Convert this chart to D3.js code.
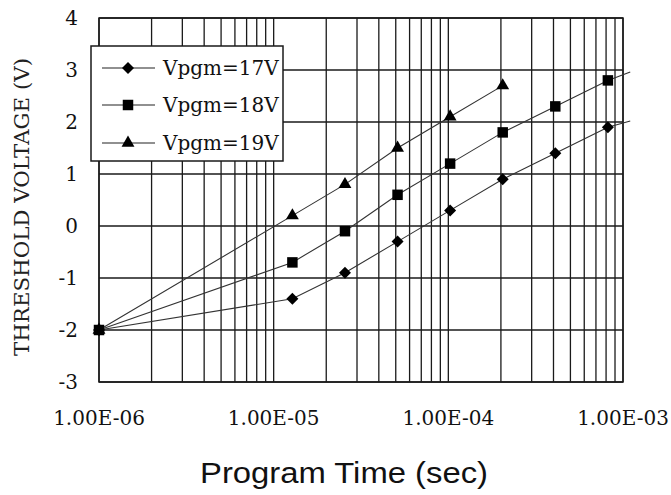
<!DOCTYPE html>
<html>
<head>
<meta charset="utf-8">
<script src="https://cdn.jsdelivr.net/npm/d3@7"></script>
<style>
  body { margin: 0; background: #fff; }
  svg { display: block; }
</style>
</head>
<body>
<div id="chart"></div>
<script>
// program pulse times (sec)
const times = [1e-6, 1.28e-5, 2.56e-5, 5.12e-5, 1.024e-4, 2.048e-4, 4.096e-4, 8.192e-4];
const v17 = [-2, -1.4, -0.9, -0.3, 0.3, 0.9, 1.4, 1.9];
const v18 = [-2, -0.7, -0.1, 0.6, 1.2, 1.8, 2.3, 2.8];
const v19 = [-2, 0.2, 0.8, 1.5, 2.1, 2.7];
// where the 17V / 18V lines run past the last point
const tail17 = [1.1e-3, 2.02];
const tail18 = [1.1e-3, 2.96];

const seriesNames = ["Vpgm=17V", "Vpgm=18V", "Vpgm=19V"];
const yTicks = [-3, -2, -1, 0, 1, 2, 3, 4];
const xTicks = [1e-6, 1e-5, 1e-4, 1e-3];
const xTickLabels = ["1.00E-06", "1.00E-05", "1.00E-04", "1.00E-03"];

const width = 671, height = 495;
const svg = d3.select("#chart").append("svg")
    .attr("width", width)
    .attr("height", height);

const x = d3.scaleLog().domain([1e-6, 1e-3]).range([99, 623]);
const y = d3.scaleLinear().domain([-3, 4]).range([382, 18]);

const gridColor = "#1a1a1a";
const serif = "'DejaVu Serif', serif";

// grid
const minor = [];
[1e-6, 1e-5, 1e-4].forEach(d => { for (let k = 2; k <= 9; k++) minor.push(d * k); });
const grid = svg.append("g");
grid.selectAll(".vx")
    .data(minor.concat(xTicks))
    .enter().append("line")
    .attr("x1", d => x(d)).attr("x2", d => x(d))
    .attr("y1", y(4)).attr("y2", y(-3))
    .attr("stroke", gridColor).attr("stroke-width", 1.3);
grid.selectAll(".hy")
    .data(yTicks)
    .enter().append("line")
    .attr("x1", x(1e-6)).attr("x2", x(1e-3))
    .attr("y1", d => y(d)).attr("y2", d => y(d))
    .attr("stroke", gridColor).attr("stroke-width", 1.3);
svg.append("rect")
    .attr("x", x(1e-6)).attr("y", y(4))
    .attr("width", x(1e-3) - x(1e-6)).attr("height", y(-3) - y(4))
    .attr("fill", "none").attr("stroke", gridColor).attr("stroke-width", 1.5);

// tick labels
svg.selectAll(".ylab")
    .data(yTicks)
    .enter().append("text")
    .attr("x", 78).attr("y", d => y(d) + 7)
    .attr("text-anchor", "end")
    .attr("font-family", serif).attr("font-size", 20)
    .attr("fill", "#111")
    .text(d => d);
svg.selectAll(".xlab")
    .data(xTicks)
    .enter().append("text")
    .attr("x", d => x(d)).attr("y", 425)
    .attr("text-anchor", "middle")
    .attr("font-family", serif).attr("font-size", 20)
    .attr("fill", "#111")
    .text((d, i) => xTickLabels[i]);

// axis titles
svg.append("text")
    .attr("transform", "translate(29,207) rotate(-90)")
    .attr("text-anchor", "middle")
    .attr("font-family", serif).attr("font-size", 20)
    .attr("textLength", 298).attr("lengthAdjust", "spacingAndGlyphs")
    .attr("fill", "#222")
    .text("THRESHOLD VOLTAGE (V)");
svg.append("text")
    .attr("x", 344).attr("y", 483)
    .attr("text-anchor", "middle")
    .attr("font-family", "'Liberation Sans', Arial, sans-serif").attr("font-size", 30)
    .attr("textLength", 288).attr("lengthAdjust", "spacingAndGlyphs")
    .attr("fill", "#111")
    .text("Program Time (sec)");

// series
const line = d3.line().x(d => x(d[0])).y(d => y(d[1]));
const s17 = times.map((t, i) => [t, v17[i]]);
const s18 = times.map((t, i) => [t, v18[i]]);
const s19 = v19.map((v, i) => [times[i], v]);
const series = [
    { pts: s17, tail: tail17, shape: d3.symbolSquare, size: 72, rot: 45 },
    { pts: s18, tail: tail18, shape: d3.symbolSquare, size: 110, rot: 0 },
    { pts: s19, tail: null, shape: d3.symbolTriangle, size: 72, rot: 0 }
];

series.forEach(s => {
    const linePts = s.tail ? s.pts.concat([s.tail]) : s.pts;
    svg.append("path")
        .datum(linePts)
        .attr("d", line)
        .attr("fill", "none")
        .attr("stroke", "#333")
        .attr("stroke-width", 1.1);
});

series.forEach(s => {
    svg.append("g").selectAll("path")
        .data(s.pts)
        .enter().append("path")
        .attr("transform", d => `translate(${x(d[0])},${y(d[1])}) rotate(${s.rot})`)
        .attr("d", d3.symbol().type(s.shape).size(s.size))
        .attr("fill", "#000");
});

// legend
const legend = svg.append("g").attr("transform", "translate(91,46)");
legend.append("rect")
    .attr("width", 192).attr("height", 115)
    .attr("fill", "#fff").attr("stroke", gridColor).attr("stroke-width", 1.5);
const rowY = [22, 59, 97];
series.forEach((s, i) => {
    const g = legend.append("g").attr("transform", `translate(0,${rowY[i]})`);
    g.append("line")
        .attr("x1", 11).attr("x2", 64)
        .attr("stroke", "#222").attr("stroke-width", 1.2);
    g.append("path")
        .attr("transform", `translate(37,0) rotate(${s.rot})`)
        .attr("d", d3.symbol().type(s.shape).size(s.size))
        .attr("fill", "#000");
    g.append("text")
        .attr("x", 72).attr("y", 7)
        .attr("font-family", serif).attr("font-size", 20)
        .attr("fill", "#111")
        .text(seriesNames[i]);
});
</script>
</body>
</html>
